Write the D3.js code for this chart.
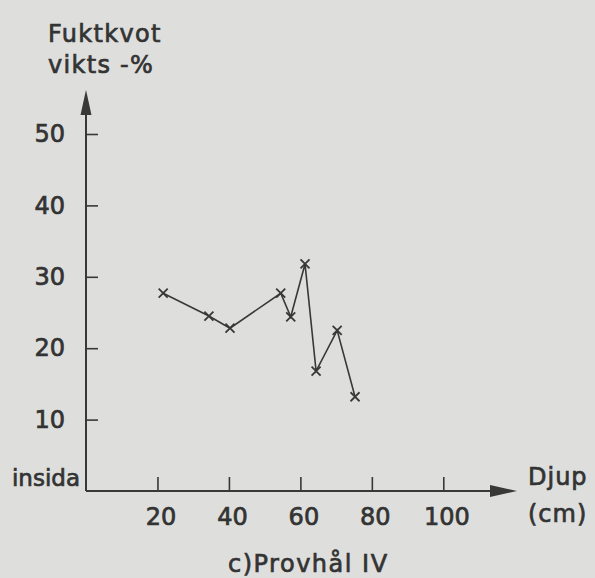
<!DOCTYPE html>
<html>
<head>
<meta charset="utf-8">
<script src="https://cdn.jsdelivr.net/npm/d3@7"></script>
<style>
  html, body { margin: 0; padding: 0; background: #dededc; }
  svg { display: block; }
  text { font-family: "DejaVu Sans", sans-serif; fill: #333333; stroke: #333333; stroke-width: 0.7px; }
</style>
</head>
<body>
<svg id="chart" width="595" height="578"></svg>
<script>
// Data
const depth = [21.6, 34.4, 40.3, 54.5, 57.3, 61.3, 64.4, 70.3, 75.3];
const moisture = [27.7, 24.5, 22.8, 27.7, 24.4, 31.8, 16.8, 22.5, 13.2];
const xTicks = [20, 40, 60, 80, 100];
const yTicks = [10, 20, 30, 40, 50];
const yTitle = ["Fuktkvot", "vikts -%"];
const xTitle = ["Djup", "(cm)"];
const zeroLabel = "insida";
const caption = "c)Provhål  IV";

const svg = d3.select("#chart");
const ink = "#383838";

const x = d3.scaleLinear().domain([0, 100]).range([86, 443.3]);
const y = d3.scaleLinear().domain([0, 50]).range([491, 134]);

// Y axis ticks + labels
const yAxis = d3.axisLeft(y).tickValues(yTicks).tickSize(-12).tickPadding(21).tickFormat(d3.format("d"));
const gy = svg.append("g").attr("transform", `translate(${x(0)},0)`).call(yAxis);
gy.select(".domain").remove();
gy.selectAll(".tick line").attr("stroke", ink).attr("stroke-width", 1.6);
gy.selectAll(".tick text").attr("font-size", 24).attr("fill", "#333333").style("font-family", "DejaVu Sans");

// X axis ticks + labels
const xAxis = d3.axisBottom(x).tickValues(xTicks).tickSize(-14).tickPadding(17).tickFormat(d3.format("d"));
const gx = svg.append("g").attr("transform", `translate(0,${y(0)})`).call(xAxis);
gx.select(".domain").remove();
gx.selectAll(".tick line").attr("stroke", ink).attr("stroke-width", 1.6);
gx.selectAll(".tick text").attr("font-size", 24).attr("dx", 3).attr("fill", "#333333").style("font-family", "DejaVu Sans");

// Axis lines with arrows
const x0 = x(0), y0 = y(0);
svg.append("path").attr("d", `M${x0},${y0}V112`).attr("stroke", ink).attr("stroke-width", 2).attr("fill", "none");
svg.append("path").attr("d", `M${x0},90L${x0 + 5.5},115L${x0 - 5.5},115Z`).attr("fill", ink);
svg.append("path").attr("d", `M${x0},${y0}H495`).attr("stroke", ink).attr("stroke-width", 2).attr("fill", "none");
svg.append("path").attr("d", `M517,${y0}L490,${y0 - 6}L490,${y0 + 6}Z`).attr("fill", ink);

// Labels
svg.append("text").attr("x", 80).attr("y", y0 - 5).attr("text-anchor", "end").attr("font-size", 23).text(zeroLabel);
svg.selectAll(".ytitle").data(yTitle).enter().append("text")
  .attr("x", 48).attr("y", (d, i) => 42 + i * 31)
  .attr("font-size", 24).attr("letter-spacing", 1.3).text(d => d);
svg.selectAll(".xtitle").data(xTitle).enter().append("text")
  .attr("x", 528).attr("y", (d, i) => 485 + i * 37)
  .attr("font-size", 24).attr("letter-spacing", 1).text(d => d);
svg.append("text").attr("x", 228).attr("y", 572).attr("font-size", 24).attr("letter-spacing", 1.5).text(caption);

// Data line
const pts = depth.map((d, i) => [d, moisture[i]]);
svg.append("path").datum(pts)
  .attr("d", d3.line().x(d => x(d[0])).y(d => y(d[1])))
  .attr("fill", "none").attr("stroke", ink).attr("stroke-width", 1.6);

// Cross markers
const s = 4.5;
svg.selectAll(".mk").data(pts).enter().append("path")
  .attr("d", d => {
    const cx = x(d[0]), cy = y(d[1]);
    return `M${cx - s},${cy - s}L${cx + s},${cy + s}M${cx - s},${cy + s}L${cx + s},${cy - s}`;
  })
  .attr("stroke", ink).attr("stroke-width", 1.8);
</script>
</body>
</html>
